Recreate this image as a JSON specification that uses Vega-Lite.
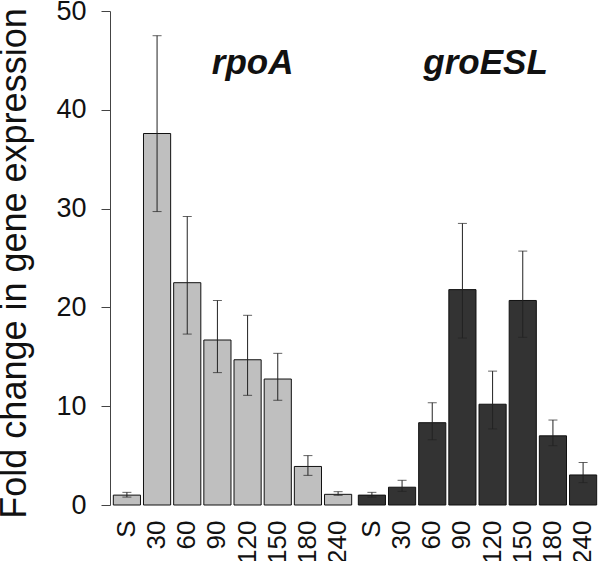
{
  "$schema": "https://vega.github.io/schema/vega-lite/v6.json",
  "autosize": {"type": "pad"},
  "padding": {"left": -5, "top": -3, "right": 0, "bottom": 0},
  "background": "white",
  "config": {
    "view": {"stroke": null},
    "font": "Liberation Sans",
    "facet": {"spacing": 0}
  },
  "data": {
    "values": [
      {"gene": "rpoA", "time": "S", "value": 1.0, "lo": 0.8, "hi": 1.28},
      {"gene": "rpoA", "time": "30", "value": 37.6, "lo": 29.7, "hi": 47.5},
      {"gene": "rpoA", "time": "60", "value": 22.5, "lo": 17.3, "hi": 29.2},
      {"gene": "rpoA", "time": "90", "value": 16.7, "lo": 13.4, "hi": 20.7},
      {"gene": "rpoA", "time": "120", "value": 14.7, "lo": 11.1, "hi": 19.2},
      {"gene": "rpoA", "time": "150", "value": 12.75, "lo": 10.6, "hi": 15.35},
      {"gene": "rpoA", "time": "180", "value": 3.9, "lo": 3.0, "hi": 5.0},
      {"gene": "rpoA", "time": "240", "value": 1.08, "lo": 0.98, "hi": 1.35},
      {"gene": "groESL", "time": "S", "value": 1.0, "lo": 0.8, "hi": 1.28},
      {"gene": "groESL", "time": "30", "value": 1.8, "lo": 1.38, "hi": 2.5},
      {"gene": "groESL", "time": "60", "value": 8.33, "lo": 6.6, "hi": 10.35},
      {"gene": "groESL", "time": "90", "value": 21.8, "lo": 16.9, "hi": 28.5},
      {"gene": "groESL", "time": "120", "value": 10.2, "lo": 7.7, "hi": 13.55},
      {"gene": "groESL", "time": "150", "value": 20.7, "lo": 16.97, "hi": 25.7},
      {"gene": "groESL", "time": "180", "value": 7.0, "lo": 6.0, "hi": 8.6},
      {"gene": "groESL", "time": "240", "value": 3.04, "lo": 2.26, "hi": 4.3}
    ]
  },
  "facet": {
    "column": {"field": "gene", "type": "nominal", "sort": ["rpoA", "groESL"], "header": null}
  },
  "spacing": 0,
  "spec": {
    "width": 245,
    "height": 494,
    "encoding": {
      "x": {
        "field": "time",
        "type": "nominal",
        "sort": ["S", "30", "60", "90", "120", "150", "180", "240"],
        "scale": {"paddingInner": 0.1, "paddingOuter": 0.11},
        "axis": {
          "title": null,
          "domain": false,
          "ticks": false,
          "labelAngle": -90,
          "labelAlign": "right",
          "labelBaseline": "middle",
          "labelPadding": 14,
          "labelFontSize": 26,
          "labelColor": "#111"
        }
      }
    },
    "layer": [
      {
        "mark": {"type": "bar", "stroke": "#111", "strokeWidth": 1},
        "encoding": {
          "y": {
            "field": "value",
            "type": "quantitative",
            "scale": {"domain": [0, 50], "nice": false},
            "axis": {
              "title": "Fold change in gene expression",
              "values": [0, 10, 20, 30, 40, 50],
              "grid": false,
              "domainColor": "#444",
              "tickColor": "#444",
              "tickSize": 9,
              "labelPadding": 15,
              "labelFontSize": 27,
              "labelColor": "#111",
              "titleFontSize": 36,
              "titleFontWeight": "normal",
              "titleColor": "#111",
              "titleAngle": -90,
              "titleX": -85,
              "titleY": 252,
              "titleAlign": "center",
              "titleBaseline": "alphabetic"
            }
          },
          "fill": {
            "field": "gene",
            "type": "nominal",
            "scale": {"domain": ["rpoA", "groESL"], "range": ["#bfbfbf", "#333333"]},
            "legend": null
          }
        }
      },
      {
        "mark": {
          "type": "errorbar",
          "ticks": {"size": 9, "color": "#222"},
          "rule": {"color": "#222", "strokeWidth": 1}
        },
        "encoding": {
          "y": {"field": "lo", "type": "quantitative", "title": "Fold change in gene expression"},
          "y2": {"field": "hi"}
        }
      },
      {
        "transform": [{"filter": "datum.gene == 'rpoA' && datum.time == '120'"}],
        "mark": {
          "type": "text",
          "fontSize": 35,
          "fontWeight": "bold",
          "fontStyle": "italic",
          "baseline": "alphabetic",
          "align": "center",
          "dx": 5,
          "color": "#111"
        },
        "encoding": {
          "y": {"datum": 43.6},
          "text": {"field": "gene"}
        }
      },
      {
        "transform": [{"filter": "datum.gene == 'groESL' && datum.time == '120'"}],
        "mark": {
          "type": "text",
          "fontSize": 35,
          "fontWeight": "bold",
          "fontStyle": "italic",
          "baseline": "alphabetic",
          "align": "center",
          "dx": -7,
          "color": "#111"
        },
        "encoding": {
          "y": {"datum": 43.6},
          "text": {"field": "gene"}
        }
      }
    ]
  }
}
